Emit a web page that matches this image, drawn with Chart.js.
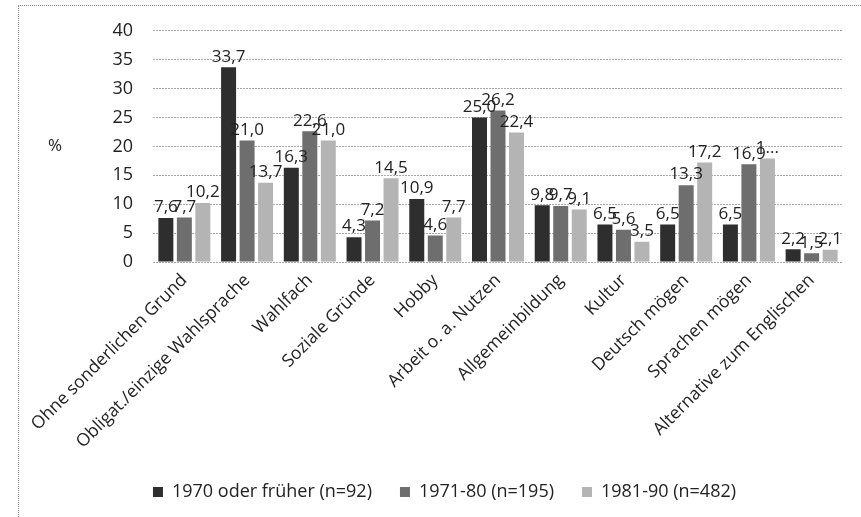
<!DOCTYPE html>
<html>
<head>
<meta charset="utf-8">
<script src="https://cdn.jsdelivr.net/npm/chart.js@4/dist/chart.umd.min.js"></script>
<style>
html,body{margin:0;padding:0;background:#fff;}
#wrap{position:relative;width:861px;height:517px;}
#frame{position:absolute;left:18px;top:5px;right:0;bottom:0;border-top:1px dotted #888;border-left:1px dotted #888;pointer-events:none;}
canvas{position:absolute;left:0;top:0;}
</style>
</head>
<body>
<div id="wrap"><canvas id="c" width="861" height="517"></canvas><div id="frame"></div></div>
<script>
const categories = ["Ohne sonderlichen Grund","Obligat./einzige Wahlsprache","Wahlfach","Soziale Gründe","Hobby","Arbeit o. a. Nutzen","Allgemeinbildung","Kultur","Deutsch mögen","Sprachen mögen","Alternative zum Englischen"];
const seriesNames = ["1970 oder früher (n=92)","1971-80 (n=195)","1981-90 (n=482)"];
const s1970 = [7.6, 33.7, 16.3, 4.3, 10.9, 25.0, 9.8, 6.5, 6.5, 6.5, 2.2];
const s1971 = [7.7, 21.0, 22.6, 7.2, 4.6, 26.2, 9.7, 5.6, 13.3, 16.9, 1.5];
const s1981 = [10.2, 13.7, 21.0, 14.5, 7.7, 22.4, 9.1, 3.5, 17.2, 17.9, 2.1];
const truncatedLabels = {"2-9": "1..."};
const yTicks = [0,5,10,15,20,25,30,35,40];
const colors = ["#2e2e2e","#6e6e6e","#b4b4b4"];

const FONT = "Open Sans";

const valueLabels = {
  id: 'valueLabels',
  afterDatasetsDraw(chart) {
    const ctx = chart.ctx;
    ctx.save();
    ctx.font = "17px '" + FONT + "'";
    ctx.fillStyle = "#222";
    ctx.textAlign = "center";
    ctx.textBaseline = "bottom";
    chart.data.datasets.forEach((ds, di) => {
      const meta = chart.getDatasetMeta(di);
      meta.data.forEach((bar, i) => {
        const key = di + "-" + i;
        const txt = truncatedLabels[key] || ds.data[i].toFixed(1).replace('.', ',');
        ctx.fillText(txt, bar.x, bar.y - 2);
      });
    });
    ctx.restore();
  }
};

const percentTitle = {
  id: 'percentTitle',
  afterDraw(chart) {
    const ctx = chart.ctx;
    const a = chart.chartArea;
    ctx.save();
    ctx.font = "17px '" + FONT + "'";
    ctx.fillStyle = "#222";
    ctx.textAlign = "center";
    ctx.textBaseline = "middle";
    ctx.fillText("%", 55, (a.top + a.bottom) / 2);
    ctx.restore();
  }
};

new Chart(document.getElementById('c'), {
  type: 'bar',
  data: {
    labels: categories,
    datasets: [s1970, s1971, s1981].map((d, i) => ({
      label: seriesNames[i],
      data: d,
      backgroundColor: colors[i],
      borderWidth: 0,
      barPercentage: 0.81,
      categoryPercentage: 0.885
    }))
  },
  options: {
    responsive: false,
    animation: false,
    devicePixelRatio: 1,
    layout: { padding: { left: 46, right: 18, top: 24, bottom: 6 } },
    plugins: {
      legend: {
        position: 'bottom',
        labels: {
          boxWidth: 10, boxHeight: 10, padding: 28,
          color: '#222',
          font: { family: FONT, size: 18 }
        }
      },
      tooltip: { enabled: false }
    },
    scales: {
      x: {
        grid: { display: false },
        border: { display: false },
        ticks: {
          color: '#222',
          font: { family: FONT, size: 17.5 },
          maxRotation: 45, minRotation: 45,
          autoSkip: false,
          padding: 0
        },
        afterFit(scale) { scale.height = 193; }
      },
      y: {
        min: 0, max: 40,
        afterBuildTicks(scale) { scale.ticks = yTicks.map(v => ({ value: v })); },
        grid: { color: '#a8a8a8', lineWidth: 1, drawTicks: false },
        border: { display: false, dash: [2, 1] },
        ticks: {
          color: '#222',
          font: { family: FONT, size: 18 },
          padding: 20
        },
        afterFit(scale) { scale.width = 107; }
      }
    }
  },
  plugins: [valueLabels, percentTitle]
});
</script>
</body>
</html>
